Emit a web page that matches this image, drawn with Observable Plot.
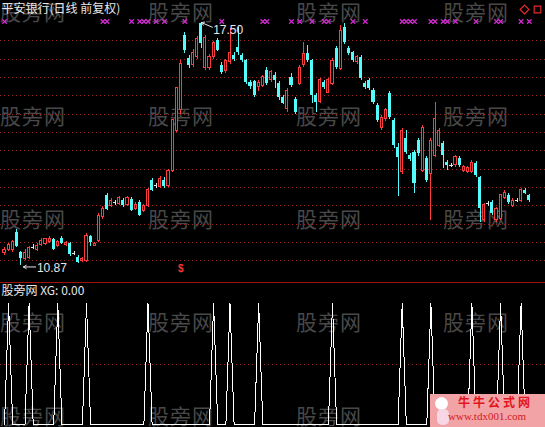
<!DOCTYPE html>
<html>
<head>
<meta charset="utf-8">
<script src="https://cdn.jsdelivr.net/npm/d3@7"></script>
<script src="https://cdn.jsdelivr.net/npm/@observablehq/plot@0.6"></script>
<style>
  html, body { margin: 0; padding: 0; background: #000; }
  #chart { position: relative; width: 545px; height: 427px; overflow: hidden; background: #000;
           font-family: "Noto Sans CJK SC", sans-serif; }
  #wm { position: absolute; left: 0; top: 0; width: 545px; height: 427px; z-index: 0; }
  .wm { position: absolute; color: #484848; font-size: 21px; line-height: 21px; letter-spacing: 1px; white-space: nowrap; }
  #main, #sub { position: absolute; left: 0; z-index: 1; }
  #main { top: 0; }
  #sub { top: 282px; }
  #logo { position: absolute; left: 430px; top: 394px; width: 115px; height: 33px; background: #f1a3a6; z-index: 2; overflow: hidden; }
  #logo .head { position: absolute; left: 5px; top: 3px; width: 13px; height: 13px; border-radius: 50%; background: #fff; }
  #logo .body { position: absolute; left: 7px; top: 15px; width: 12px; height: 16px; border-radius: 5px; background: #f7d6e6; }
  #logo .t1 { position: absolute; left: 28px; top: 1px; color: #e3141c; font-size: 12px; font-weight: bold; letter-spacing: 3px; line-height: 14px; }
  #logo .t2 { position: absolute; left: 18px; top: 16px; color: #d21a24; font-family: "Liberation Serif", serif; font-size: 11px; line-height: 13px; }
</style>
</head>
<body>
<div id="chart">
  <div id="wm"></div>
  <div id="main"></div>
  <div id="sub"></div>
  <div id="logo"><div class="head"></div><div class="body"></div><div class="t1">牛牛公式网</div><div class="t2">www.tdx001.com</div></div>
</div>
<script>
// 平安银行 daily bars (前复权)
const open = [
  11.20,11.28,11.28,11.78,11.22,11.06,11.08,11.36,11.30,11.42,
  11.46,11.52,11.58,11.40,11.62,11.44,11.46,11.20,11.10,10.98,
  11.00,11.66,11.40,11.55,12.18,12.78,12.48,12.58,12.55,12.64,
  12.52,12.66,12.42,12.60,12.37,12.50,13.19,13.05,13.02,13.19,
  13.05,13.46,14.55,15.10,17.15,16.52,16.33,16.55,17.47,16.27,
  16.27,16.55,17.01,16.33,16.19,16.41,16.60,16.82,16.60,16.46,
  15.86,15.88,15.75,15.78,16.19,15.92,16.05,15.83,15.45,15.15,
  15.99,15.40,15.83,16.33,16.65,16.46,15.51,15.32,15.86,15.59,
  15.83,16.79,16.24,17.36,16.79,16.68,16.41,16.55,15.83,15.92,
  15.64,15.24,14.63,14.86,15.56,14.83,14.10,13.41,14.33,13.87,
  13.95,14.28,13.46,13.79,13.38,13.87,14.14,14.20,13.68,13.60,
  13.60,13.79,13.46,13.41,13.41,13.65,13.27,12.10,12.56,12.59,
  12.10,12.15,12.72,12.78,12.50,12.64,12.64,12.92,12.78
];
const high = [
  11.35,11.48,11.55,11.84,11.26,11.30,11.40,11.44,11.48,11.60,
  11.62,11.66,11.62,11.56,11.66,11.52,11.50,11.26,11.14,11.08,
  11.74,11.70,11.50,12.28,12.48,12.84,12.70,12.64,12.76,12.70,
  12.76,12.72,12.58,12.64,12.53,12.96,13.24,13.12,13.30,13.26,
  13.50,14.86,15.74,16.45,17.22,16.60,16.75,17.12,17.50,17.15,
  16.62,16.98,17.06,16.40,16.50,17.34,16.68,17.36,16.65,16.50,
  15.92,15.92,15.92,16.05,16.26,16.20,16.14,15.88,15.50,15.70,
  16.10,15.45,16.32,16.95,16.87,16.50,15.55,15.98,15.92,15.96,
  16.52,16.84,17.42,17.48,16.84,16.72,16.60,16.60,15.88,15.98,
  15.70,15.30,14.95,15.16,15.62,14.88,14.20,14.60,14.55,13.92,
  14.00,14.34,14.68,13.84,14.33,15.32,14.62,14.25,13.73,13.66,
  13.88,13.84,13.60,13.56,13.73,13.70,13.30,12.56,12.62,12.64,
  12.46,12.82,12.92,12.84,12.70,12.70,12.97,12.97,12.82
];
const low = [
  11.15,11.24,11.22,11.36,10.87,11.00,11.04,11.30,11.26,11.38,
  11.42,11.48,11.28,11.36,11.44,11.40,11.12,11.14,10.92,10.94,
  10.96,11.40,11.38,11.50,12.12,12.36,12.44,12.52,12.50,12.45,
  12.48,12.34,12.38,12.20,12.32,12.46,12.88,12.98,12.98,12.98,
  13.00,13.40,14.50,15.00,16.65,16.25,16.28,16.50,16.80,16.20,
  16.20,16.50,16.70,16.08,16.12,16.36,16.44,16.60,16.40,15.80,
  15.68,15.45,15.62,15.72,15.78,15.85,15.70,15.37,15.26,15.04,
  15.72,15.00,15.78,16.28,16.40,15.29,15.05,15.28,15.68,15.55,
  15.78,16.22,16.20,16.90,16.60,16.40,16.36,15.92,15.68,15.65,
  15.26,14.76,14.56,14.80,14.85,14.05,12.75,13.36,13.90,13.70,
  12.83,13.85,13.40,13.14,12.10,13.82,14.08,13.51,13.46,13.55,
  13.55,13.55,13.42,13.38,13.38,13.28,12.04,12.04,12.48,12.24,
  12.04,12.10,12.68,12.54,12.44,12.58,12.58,12.80,12.58
];
const close = [
  11.28,11.42,11.50,11.40,11.06,11.22,11.35,11.36,11.40,11.55,
  11.58,11.60,11.32,11.50,11.48,11.48,11.16,11.20,10.96,11.04,
  11.68,11.50,11.45,12.23,12.42,12.40,12.62,12.58,12.70,12.50,
  12.70,12.38,12.53,12.24,12.48,12.92,12.92,13.05,13.24,13.03,
  13.46,14.83,15.70,16.38,16.74,16.33,16.68,17.06,16.93,17.09,
  16.55,16.93,16.74,16.14,16.46,16.68,16.50,16.68,16.46,15.86,
  15.75,15.51,15.86,16.00,15.83,16.14,15.92,15.45,15.30,15.64,
  15.78,15.05,16.27,16.65,16.46,15.51,15.32,15.92,15.73,15.92,
  16.46,16.27,17.28,16.95,16.65,16.46,16.55,15.97,15.73,15.70,
  15.32,14.83,14.90,15.10,14.90,14.14,13.83,14.55,13.95,13.75,
  13.10,13.92,14.63,13.19,14.28,14.88,14.55,13.87,13.60,13.60,
  13.82,13.60,13.55,13.52,13.68,13.33,12.42,12.51,12.56,12.29,
  12.42,12.78,12.86,12.59,12.64,12.64,12.92,12.84,12.64
];
// XG indicator (0 / 1 per bar)
const xg = [
  0,1,0,0,0,0,1,0,0,0,
  0,0,0,1,0,0,0,0,0,0,
  1,0,0,0,0,0,0,0,0,0,
  0,0,0,0,0,1,0,0,0,0,
  0,0,0,0,0,0,0,0,0,0,
  0,1,0,0,0,1,0,0,0,0,
  0,0,1,0,0,0,0,0,0,0,
  0,0,0,0,0,0,0,0,0,0,
  1,0,0,0,0,0,0,0,0,0,
  0,0,0,0,0,0,0,1,0,0,
  0,0,0,0,1,0,0,0,0,0,
  0,0,0,0,1,0,0,0,0,0,
  0,1,0,0,0,0,1,0,0
];
// bars flagged with the magenta cross along the top
const crossBars = [0,24,25,31,33,34,35,37,39,44,53,63,64,70,72,75,78,79,85,88,97,98,99,100,104,105,107,108,110,115,120,121,126,128];
// bars flagged with "$" under the candles
const dollarBars = [43];
// dotted price guide levels
const gridPrices = [11.0,11.5,12.0,12.5,13.0,13.5,14.0,14.5,15.0,15.5,16.0,16.5,17.0];
const title = "平安银行(日线 前复权)";
const indicatorName = "股旁网";
const watermark = "股旁网";

const N = open.length;
const RED = "#ff3a3a", CYAN = "#54fcfc", WHITE = "#e6e6e6", GRID = "#9c2424";
const rows = open.map((o, i) => ({i, o, h: high[i], l: low[i], c: close[i]}));
const up = rows.filter(d => d.c > d.o);
const down = rows.filter(d => d.c < d.o);
const flat = rows.filter(d => d.c === d.o);
const colorOf = d => d.c > d.o ? RED : d.c < d.o ? CYAN : WHITE;
const hiI = d3.maxIndex(high), loI = d3.minIndex(low);
const xScale = {type: "linear", domain: [0, N - 1], range: [4, 528.8], axis: null};
const font = "'Liberation Sans', 'Noto Sans CJK SC', sans-serif";

const main = Plot.plot({
  width: 545, height: 282, margin: 0, marginBottom: 0.5,
  style: {background: "transparent", color: "#fff", fontFamily: font, overflow: "visible"},
  x: xScale,
  y: {domain: [10.87, 17.5], range: [265, 22], axis: null},
  marks: [
    Plot.ruleY(gridPrices, {stroke: GRID, strokeDasharray: "1 3", shapeRendering: "crispEdges"}),
    Plot.frame({anchor: "bottom", stroke: "#a01010", shapeRendering: "crispEdges"}),
    // wicks above and below the body
    Plot.ruleX(rows, {x: "i", y1: "h", y2: d => Math.max(d.o, d.c), stroke: colorOf, shapeRendering: "crispEdges"}),
    Plot.ruleX(rows, {x: "i", y1: d => Math.min(d.o, d.c), y2: "l", stroke: colorOf, shapeRendering: "crispEdges"}),
    // falling bars: solid cyan, rising bars: hollow red, unchanged: white bar
    Plot.rect(down, {x1: d => d.i - 0.37, x2: d => d.i + 0.37, y1: "o", y2: "c", fill: CYAN, shapeRendering: "crispEdges"}),
    Plot.rect(up, {x1: d => d.i - 0.25, x2: d => d.i + 0.25, y1: "o", y2: "c", fill: "#000", stroke: RED, shapeRendering: "crispEdges"}),
    Plot.ruleY(flat, {y: "o", x1: d => d.i - 0.4, x2: d => d.i + 0.4, stroke: WHITE, shapeRendering: "crispEdges"}),
    // signal marks
    Plot.dot(crossBars, {x: d => d, frameAnchor: "top", dy: 21, symbol: "times", r: 2.2, stroke: "#d42ad4", strokeWidth: 1.2}),
    Plot.text(dollarBars, {x: d => d, text: () => "$", frameAnchor: "bottom", dy: -10, fill: "#ff3030", fontSize: 10, fontWeight: "bold"}),
    // extremes
    Plot.arrow([hiI], {x1: i => i + 2.7, y1: i => high[i] - 0.13, x2: i => i, y2: i => high[i], stroke: WHITE, headLength: 5, strokeWidth: 1}),
    Plot.text([hiI], {x: i => i + 2.9, y: i => high[i] - 0.22, text: i => high[i].toFixed(2), textAnchor: "start", fill: WHITE, fontSize: 12}),
    Plot.arrow([loI], {x1: i => i + 3.6, y1: i => low[i] - 0.04, x2: i => i + 0.6, y2: i => low[i] - 0.04, stroke: WHITE, headLength: 5, strokeWidth: 1}),
    Plot.text([loI], {x: i => i + 3.9, y: i => low[i] - 0.06, text: i => low[i].toFixed(2), textAnchor: "start", fill: WHITE, fontSize: 12}),
    // heading and window buttons
    Plot.text([title], {frameAnchor: "top-left", dx: 1, dy: 4, fill: WHITE, fontSize: 12, fontFamily: "'Noto Sans CJK SC', sans-serif"}),
    Plot.dot([0], {frameAnchor: "top-right", dx: -21, dy: 9, symbol: "diamond2", r: 4, stroke: "#e82828", strokeWidth: 1.2}),
    Plot.dot([0], {frameAnchor: "top-right", dx: -8, dy: 9, symbol: "square2", r: 4.2, stroke: "#e82828", strokeWidth: 1.2})
  ]
});
document.getElementById("main").append(main);

const sub = Plot.plot({
  width: 545, height: 145, margin: 0,
  style: {background: "transparent", color: "#fff", fontFamily: font, overflow: "visible"},
  x: xScale,
  y: {domain: [0, 1], range: [142, 21], axis: null},
  marks: [
    Plot.ruleY([0.5], {stroke: GRID, strokeDasharray: "1 3", shapeRendering: "crispEdges"}),
    Plot.line(xg, {x: (d, i) => i, y: d => d, stroke: "#fff", strokeWidth: 1, shapeRendering: "crispEdges"}),
    Plot.text([`${indicatorName} XG: ${xg[N - 1].toFixed(2)}`], {frameAnchor: "top-left", dx: 1, dy: 4, fill: WHITE, fontSize: 12, fontFamily: "'Noto Sans CJK SC', sans-serif"})
  ]
});
document.getElementById("sub").append(sub);

// faint site watermark tiled behind both panels
const wm = document.getElementById("wm");
for (const top of [1, 105, 208, 311, 405]) {
  for (const left of [0, 148, 296, 443]) {
    const el = document.createElement("div");
    el.className = "wm";
    el.style.left = left + "px";
    el.style.top = top + "px";
    el.textContent = watermark;
    wm.append(el);
  }
}
</script>
</body>
</html>
